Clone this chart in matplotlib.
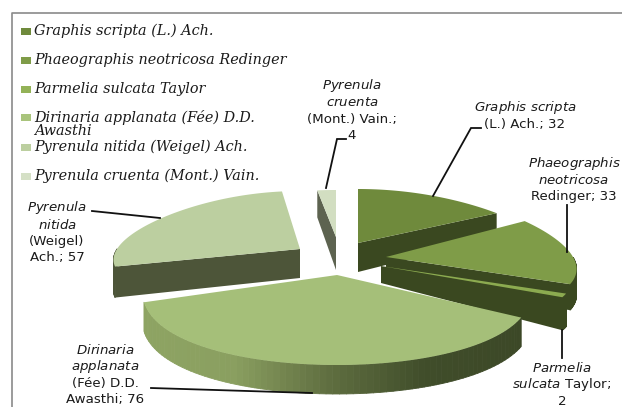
import numpy as np
import matplotlib
matplotlib.use('Agg')
import matplotlib.pyplot as plt
from matplotlib.colors import LinearSegmentedColormap
from matplotlib.patches import Polygon, Rectangle
from matplotlib.collections import PolyCollection

species = ['Graphis scripta (L.) Ach.', 'Phaeographis neotricosa Redinger', 'Parmelia sulcata Taylor',
           'Dirinaria applanata (Fée) D.D.\nAwasthi', 'Pyrenula nitida (Weigel) Ach.', 'Pyrenula cruenta (Mont.) Vain.']
counts = [32, 33, 2, 76, 57, 4]

plt.rcParams['mathtext.fontset'] = 'dejavusans'

face_colors = ['#6f8a3c', '#7f9c48', '#8cab50', '#a5bf79', '#bccfa0', '#d2dec1']
legend_colors = ['#6f8a3c', '#7f9c48', '#93b257', '#a9c47c', '#bccfa0', '#d5e0c6']
side_colors = ['#3a4820', '#3a4820', '#3a4820', '#47532f', '#4d5539', '#5d6350']
# per slice picture geometry: tip x, tip y, rx, ry, depth at tip, depth at rim
geom = [(358, 243, 187, 54, 29, 24),
        (386, 257, 187, 65, 25, 26),
        (381, 266, 188, 66, 17, 33),
        (337, 275, 191, 90, 28, 29),
        (300, 249, 183, 58, 29, 31),
        (336, 237, 190, 47, 33, 27)]
cut_side = ['end', 'end', 'end', None, 'start', 'start']
draw_order = [0, 1, 2, 3, 5, 4]
skew = 0.2

labels = [['$\\mathit{Graphis\\ scripta}$', '(L.) Ach.; 32'],
          ['$\\mathit{Phaeographis}$', '$\\mathit{neotricosa}$', 'Redinger; 33'],
          ['$\\mathit{Parmelia}$', '$\\mathit{sulcata}$ Taylor;', '2'],
          ['$\\mathit{Dirinaria}$', '$\\mathit{applanata}$', '(Fée) D.D.', 'Awasthi; 76'],
          ['$\\mathit{Pyrenula}$', '$\\mathit{nitida}$', '(Weigel)', 'Ach.; 57'],
          ['$\\mathit{Pyrenula}$', '$\\mathit{cruenta}$', '(Mont.) Vain.;', '4']]
label_pos = [(525, 108), (574, 163), (562, 368), (105, 350), (57, 208), (352, 86)]
leaders = [[(433, 196), (471, 128), (481, 128)],
           [(567, 252), (567, 205)],
           [(562, 330), (562, 358)],
           [(312, 393), (151, 388)],
           [(160, 218), (92, 211)],
           [(326, 188), (337, 139), (346, 139)]]
legend_y = [31, 60, 89, 117, 147, 176]


def project(g, theta, r=1.0):
    # squashed, slightly skewed circle, so the front looks wider than the back
    x = g[0] + r * g[2] * np.sin(theta) * (1 - skew * np.cos(theta))
    y = g[1] - r * g[3] * np.cos(theta)
    return x, y


def draw_slice(ax, i, t1, t2):
    g = geom[i]
    ts = np.linspace(t1, t2, 80)
    xs, ys = project(g, ts)
    d_tip, d_rim = g[4], g[5]
    # outer rim, only the part facing the viewer
    quads, cols = [], []
    for a, b in zip(range(len(ts) - 1), range(1, len(ts))):
        if np.pi / 2 <= ts[a] <= 1.5 * np.pi:
            quads.append([(xs[a], ys[a]), (xs[b], ys[b]), (xs[b], ys[b] + d_rim), (xs[a], ys[a] + d_rim)])
            if i == 3:
                cols.append(rim_cmap((xs[a] - 140) / 385))
            else:
                cols.append(side_colors[i])
    if quads:
        ax.add_collection(PolyCollection(quads, facecolors=cols, edgecolors=cols, linewidths=0.6))
    # radial cut side
    if cut_side[i]:
        ex, ey = (xs[-1], ys[-1]) if cut_side[i] == 'end' else (xs[0], ys[0])
        ax.add_patch(Polygon([(g[0], g[1]), (ex, ey), (ex, ey + d_rim), (g[0], g[1] + d_tip)],
                             facecolor=side_colors[i], edgecolor='none'))
    pts = [(g[0], g[1])] + list(zip(xs, ys))
    ax.add_patch(Polygon(pts, facecolor=face_colors[i], edgecolor='none'))


rim_cmap = LinearSegmentedColormap.from_list('rim', ['#8ea463', '#8a9f60', '#5f6e40', '#404d2a', '#3c4827'])

fig = plt.figure(figsize=(6.22, 4.07), dpi=100)
ax = fig.add_axes([0, 0, 1, 1])
ax.set_xlim(0, 622)
ax.set_ylim(407, 0)
ax.axis('off')

# frame
ax.plot([12, 12, 622], [407, 13, 13], color='#8a8a8a', lw=1.2)

angles = np.concatenate([[0], np.cumsum(counts)]) / np.sum(counts) * 2 * np.pi
for i in draw_order:
    draw_slice(ax, i, angles[i], angles[i + 1])

for pts in leaders:
    ax.plot(*zip(*pts), color='#111111', lw=1.3, solid_joinstyle='miter')

for lines, (cx, y0) in zip(labels, label_pos):
    for k, line in enumerate(lines):
        ax.text(cx, y0 + k * 16.6, line, ha='center', va='center', fontsize=9.6,
                family='DejaVu Sans', color='#1a1a1a', clip_on=False)

for name, col, y in zip(species, legend_colors, legend_y):
    ax.add_patch(Rectangle((21, y - 3.5), 10, 7, facecolor=col, edgecolor='none'))
    ax.text(34, y - 7, name, ha='left', va='top', fontsize=10.4,
            family='DejaVu Serif', style='italic', color='#1a1a1a', linespacing=0.95)

fig.savefig('out.png', dpi=100)
